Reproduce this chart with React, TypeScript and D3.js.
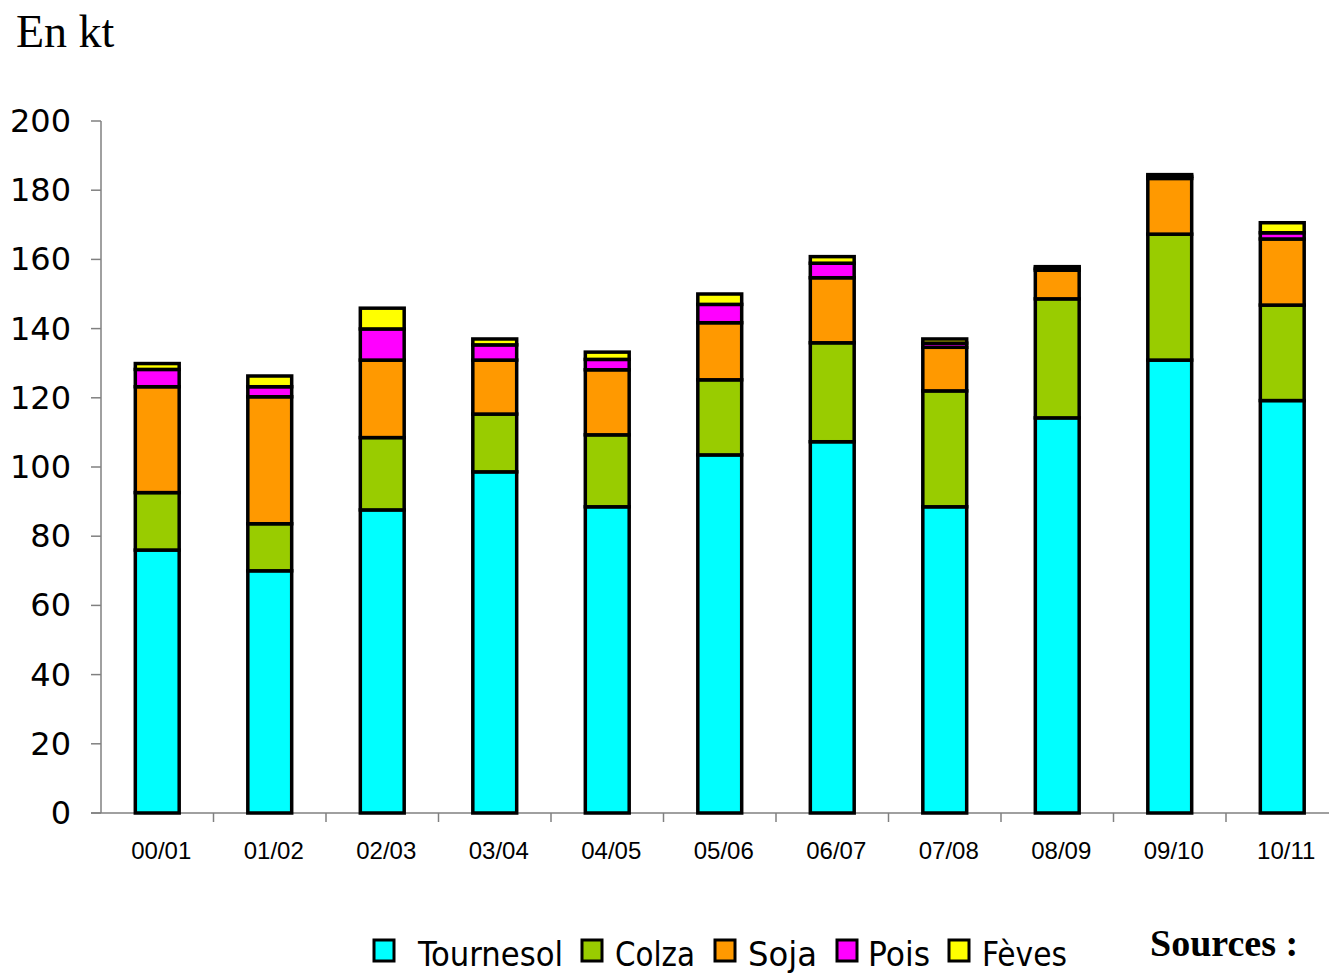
import React from "react";
import * as d3 from "d3";

const campagnes = ["00/01", "01/02", "02/03", "03/04", "04/05", "05/06", "06/07", "07/08", "08/09", "09/10", "10/11"];
const tournesol = [76, 70, 87.6, 98.6, 88.5, 103.5, 107.3, 88.5, 114.2, 130.9, 119.2];
const colza = [16.6, 13.6, 20.9, 16.7, 20.8, 21.7, 28.6, 33.5, 34.4, 36.4, 27.6];
const soja = [30.6, 36.7, 22.4, 15.6, 18.8, 16.5, 18.8, 12.6, 8.3, 16.1, 19.1];
const pois = [5, 2.9, 9, 4.4, 3, 5.3, 4.2, 1.2, 0.5, 0.6, 1.8];
const feves = [1.7, 3.1, 6, 1.7, 2.1, 3, 1.9, 1.2, 0.5, 0.5, 2.9];
const yTicks = [0, 20, 40, 60, 80, 100, 120, 140, 160, 180, 200];

const seriesNames = ["Tournesol", "Colza", "Soja", "Pois", "Fèves"];
const seriesColors = ["#00FFFF", "#99CC00", "#FF9900", "#FF00FF", "#FFFF00"];

const W = 1329;
const H = 976;
const left = 101;
const right = 1338.5;
const top = 121;
const bottom = 813;

export default function App() {
  const rows = campagnes.map((c, i) => ({
    campagne: c,
    Tournesol: tournesol[i],
    Colza: colza[i],
    Soja: soja[i],
    Pois: pois[i],
    Fèves: feves[i],
  }));

  const stack = d3.stack<any>().keys(seriesNames);
  const layers = stack(rows);

  const x = d3.scaleBand<string>().domain(campagnes).range([left, right]).padding(0);
  const y = d3.scaleLinear().domain([0, 200]).range([bottom, top]);
  const barW = x.bandwidth() * 0.39;

  // legend layout (square x, text x, text width)
  const legendItems = [
    { sq: 374, tx: 418, tw: 145 },
    { sq: 582, tx: 615, tw: 80 },
    { sq: 715, tx: 748, tw: 69 },
    { sq: 837, tx: 868, tw: 62 },
    { sq: 949, tx: 982, tw: 85 },
  ];

  return (
    <svg
      width={W}
      height={H}
      style={{ position: "absolute", left: 0, top: 0, background: "#fff" }}
    >
      <text x={16} y={47} fontFamily="'Liberation Serif', serif" fontSize={46} fill="#000">
        En kt
      </text>

      {/* y axis */}
      <line x1={left} x2={left} y1={top} y2={bottom} stroke="#808080" strokeWidth={1.5} />
      {yTicks.map((t) => (
        <g key={t}>
          <line x1={left - 10} x2={left} y1={y(t)} y2={y(t)} stroke="#808080" strokeWidth={1.5} />
          <text
            x={71}
            y={y(t) + 11}
            textAnchor="end"
            fontFamily="'DejaVu Sans', sans-serif"
            fontSize={32}
            fill="#000"
          >
            {t}
          </text>
        </g>
      ))}

      {/* x axis */}
      <line x1={left - 10} x2={right} y1={bottom} y2={bottom} stroke="#808080" strokeWidth={1.5} />
      {campagnes.map((c) => (
        <line
          key={"t" + c}
          x1={(x(c) as number) + x.bandwidth()}
          x2={(x(c) as number) + x.bandwidth()}
          y1={bottom}
          y2={bottom + 9}
          stroke="#808080"
          strokeWidth={1.5}
        />
      ))}
      {campagnes.map((c) => (
        <text
          key={"l" + c}
          x={(x(c) as number) + x.bandwidth() / 2 + 4}
          y={859}
          textAnchor="middle"
          fontFamily="'Liberation Sans', Arial, sans-serif"
          fontSize={24}
          fill="#000"
        >
          {c}
        </text>
      ))}

      {/* bars */}
      {layers.map((layer, si) => (
        <g key={layer.key} fill={seriesColors[si]}>
          {layer.map((d, i) => {
            const cx = (x(campagnes[i]) as number) + x.bandwidth() / 2;
            return (
              <rect
                key={i}
                x={cx - barW / 2}
                y={y(d[1])}
                width={barW}
                height={Math.max(0, y(d[0]) - y(d[1]))}
                stroke="#000"
                strokeWidth={3.5}
              />
            );
          })}
        </g>
      ))}

      {/* legend */}
      {legendItems.map((it, i) => (
        <g key={seriesNames[i]}>
          <rect
            x={it.sq}
            y={940}
            width={20}
            height={21}
            fill={seriesColors[i]}
            stroke="#000"
            strokeWidth={3}
          />
          <text
            x={it.tx}
            y={966}
            fontFamily="'DejaVu Sans Condensed', 'DejaVu Sans', sans-serif"
            fontSize={34}
            textLength={it.tw}
            lengthAdjust="spacingAndGlyphs"
            fill="#000"
          >
            {seriesNames[i]}
          </text>
        </g>
      ))}

      <text
        x={1150}
        y={956}
        fontFamily="'Liberation Serif', serif"
        fontWeight="bold"
        fontSize={38}
        fill="#000"
      >
        Sources :
      </text>
    </svg>
  );
}
